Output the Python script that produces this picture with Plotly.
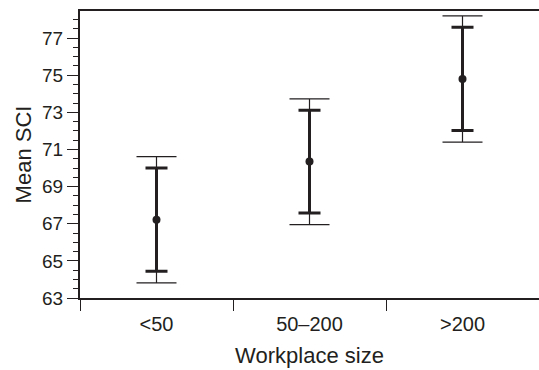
import plotly.graph_objects as go

# Mean SCI by workplace size, with two confidence intervals per group
categories = ["<50", "50\u2013200", ">200"]
means = [67.22, 70.35, 74.80]
inner_low = [64.44, 67.58, 72.02]
inner_high = [70.00, 73.12, 77.58]
outer_low = [63.82, 66.95, 71.40]
outer_high = [70.62, 73.73, 78.20]

INK = "#231f20"
FONT = "Liberation Sans, Arial, Helvetica, sans-serif"

fig = go.Figure()

# wider interval: thin line with long caps
fig.add_trace(go.Scatter(
    x=categories, y=means, mode="markers",
    marker=dict(size=0.1, color=INK),
    error_y=dict(type="data", symmetric=False,
                 array=[h - m for h, m in zip(outer_high, means)],
                 arrayminus=[m - l for m, l in zip(means, outer_low)],
                 color=INK, thickness=1.2, width=20),
    showlegend=False, hoverinfo="skip",
))

# narrower interval: thick line with short caps, plus the mean dot
fig.add_trace(go.Scatter(
    x=categories, y=means, mode="markers",
    marker=dict(size=8, color=INK, symbol="circle"),
    error_y=dict(type="data", symmetric=False,
                 array=[h - m for h, m in zip(inner_high, means)],
                 arrayminus=[m - l for m, l in zip(means, inner_low)],
                 color=INK, thickness=3, width=11),
    showlegend=False,
))

fig.update_layout(
    width=539, height=370,
    margin=dict(l=80, r=0, t=11, b=72),
    paper_bgcolor="white", plot_bgcolor="white",
    font=dict(family=FONT, color=INK, size=19),
    xaxis=dict(
        type="category", range=[-0.5, 2.5],
        tickson="boundaries", ticks="outside", ticklen=11, tickwidth=1.3,
        tickcolor=INK, showgrid=False, zeroline=False,
        showline=True, linewidth=2, linecolor=INK, mirror=True,
        tickfont=dict(size=20), ticklabelstandoff=7,
        title=dict(text="Workplace size", font=dict(size=22), standoff=14),
    ),
    yaxis=dict(
        range=[63, 78.46], tick0=63, dtick=2,
        ticks="outside", ticklen=11, tickwidth=1.3, tickcolor=INK,
        minor=dict(dtick=0.5, tick0=63, ticks="outside", ticklen=5,
                   tickwidth=1, tickcolor=INK, showgrid=False),
        showgrid=False, zeroline=False,
        showline=True, linewidth=2, linecolor=INK,
        tickfont=dict(size=19),
        title=dict(text="Mean SCI", font=dict(size=22), standoff=4),
    ),
)

fig.write_html("out.html")
